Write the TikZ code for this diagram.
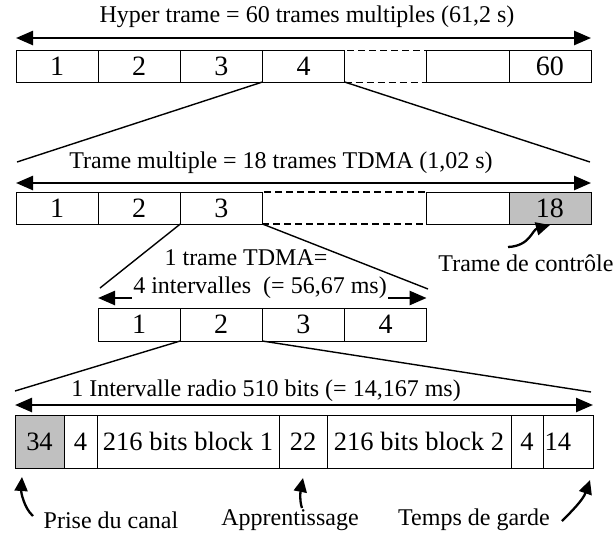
\documentclass[tikz,border=0pt]{standalone}
\usepackage{fontspec}
\setmainfont{Liberation Serif}
\usetikzlibrary{arrows.meta, positioning}
\definecolor{cellgray}{RGB}{192,192,192}

\begin{document}
\begin{tikzpicture}[
    x=1pt, y=-1pt,
    cell/.style={draw, line width=0.8pt, inner sep=0pt, outer sep=0pt, minimum width=82.15pt, minimum height=32pt, font=\fontsize{28}{28}\selectfont},
    slot/.style={cell, minimum height=53pt, font=\fontsize{26.5}{27}\selectfont},
    gap/.style={cell, dash pattern=on 7pt off 4pt},
    title/.style={font=\fontsize{24}{26}\selectfont, inner sep=1pt},
    note/.style={font=\fontsize{24}{26}\selectfont, inner sep=1pt},
    span/.style={{Triangle[length=17pt,width=14pt]}-{Triangle[length=17pt,width=14pt]}, line width=2.5pt},
    zoomline/.style={line width=1.4pt},
    callout/.style={-{Triangle[length=14pt,width=13pt]}, line width=2.3pt}
]
\useasboundingbox (0,0) rectangle (616,539);

% hyper trame
\node[title] (hyper) at (307,17) {Hyper trame = 60 trames multiples (61,2 s)};
\node[cell, anchor=west] (h1) at (16,66) {1};
\node[cell, right=0pt of h1] (h2) {2};
\node[cell, right=0pt of h2] (h3) {3};
\node[cell, right=0pt of h3] (h4) {4};
\node[gap, right=0pt of h4] (h5) {};
\node[cell, right=0pt of h5] (h6) {};
\node[cell, right=0pt of h6] (h60) {60};
\draw[span] ([yshift=12pt]h1.north west) -- ([yshift=12pt]h60.north east);

\coordinate (mleft) at (17,162);
\coordinate (mright) at (590,162);
\draw[zoomline] (h4.south west) -- (mleft);
\draw[zoomline] (h4.south east) -- (mright);

% trame multiple
\node[title] (multi) at (281,163) {Trame multiple = 18 trames TDMA (1,02 s)};
\node[cell, anchor=west] (m1) at (16,208) {1};
\node[cell, right=0pt of m1] (m2) {2};
\node[cell, right=0pt of m2] (m3) {3};
\node[gap, line width=1.4pt, minimum width=164.3pt, right=0pt of m3] (md) {};
\node[cell, right=0pt of md] (m17) {};
\node[cell, fill=cellgray, right=0pt of m17] (m18) {18};
\draw[span] ([yshift=9pt]m1.north west) -- ([yshift=9pt]m18.north east);

\node[note] (ctl) at (526,263) {Trame de contrôle};
\coordinate (ctltail) at (508,247);
\draw[callout] (ctltail) .. controls (530,246) and (532,230) .. ([yshift=-1pt]m18.south);

\coordinate (tleft) at (100,288);
\coordinate (tright) at (428,289);
\draw[zoomline] (m3.south west) -- (tleft);
\draw[zoomline] (m3.south east) -- (tright);

% trame TDMA
\node[title] (tdma) at (246,258) {1 trame TDMA=};
\node[cell, minimum height=33pt, anchor=west] (t1) at (98,324.5) {1};
\node[cell, minimum height=33pt, right=0pt of t1] (t2) {2};
\node[cell, minimum height=33pt, right=0pt of t2] (t3) {3};
\node[cell, minimum height=33pt, right=0pt of t3] (t4) {4};
\draw[span] ([yshift=10pt]t1.north west) -- ([yshift=10pt]t4.north east);
\node[title, fill=white, inner ysep=2pt] (slots) at (260,288) {4 intervalles\ \ (= 56,67 ms)};

\coordinate (rleft) at (15,391);
\coordinate (rright) at (591,392);
\draw[zoomline] (t2.south west) -- (rleft);
\draw[zoomline] (t2.south east) -- (rright);

% intervalle radio
\node[slot, fill=cellgray, minimum width=49pt, anchor=west] (r34) at (15,441.5) {34};
\node[slot, minimum width=33pt, right=0pt of r34] (r4a) {4};
\node[slot, minimum width=182pt, right=0pt of r4a] (rb1) {216 bits block 1};
\node[slot, minimum width=48pt, right=0pt of rb1] (r22) {22};
\node[slot, minimum width=184pt, right=0pt of r22] (rb2) {216 bits block 2};
\node[slot, minimum width=32pt, right=0pt of rb2] (r4b) {4};
\node[slot, minimum width=50pt, text width=47pt, inner xsep=1.5pt, align=left, right=0pt of r4b] (r14) {14};
\draw[span] ([yshift=10pt]r34.north west) -- ([yshift=10pt]r14.north east);
\node[title, fill=white, inner xsep=4pt, inner ysep=2pt] (radio) at (266,391) {1 Intervalle radio 510 bits (= 14,167 ms)};

\node[note] (prise) at (111,520) {Prise du canal};
\node[note] (appr) at (290,520) {Apprentissage};
\node[note] (garde) at (474,520) {Temps de garde};
\coordinate (prisetail) at (33,516);
\coordinate (apprtail) at (302,508);
\coordinate (gardetail) at (562,521);
\draw[callout] (prisetail) .. controls (24,508) and (21,492) .. ([xshift=7pt, yshift=-9pt]r34.south west);
\draw[callout] (apprtail) .. controls (299,500) and (301,488) .. ([yshift=-10pt]r22.south);
\draw[callout] (gardetail) .. controls (571,512) and (583,500) .. ([xshift=-3pt, yshift=-12pt]r14.south east);

\end{tikzpicture}
\end{document}
